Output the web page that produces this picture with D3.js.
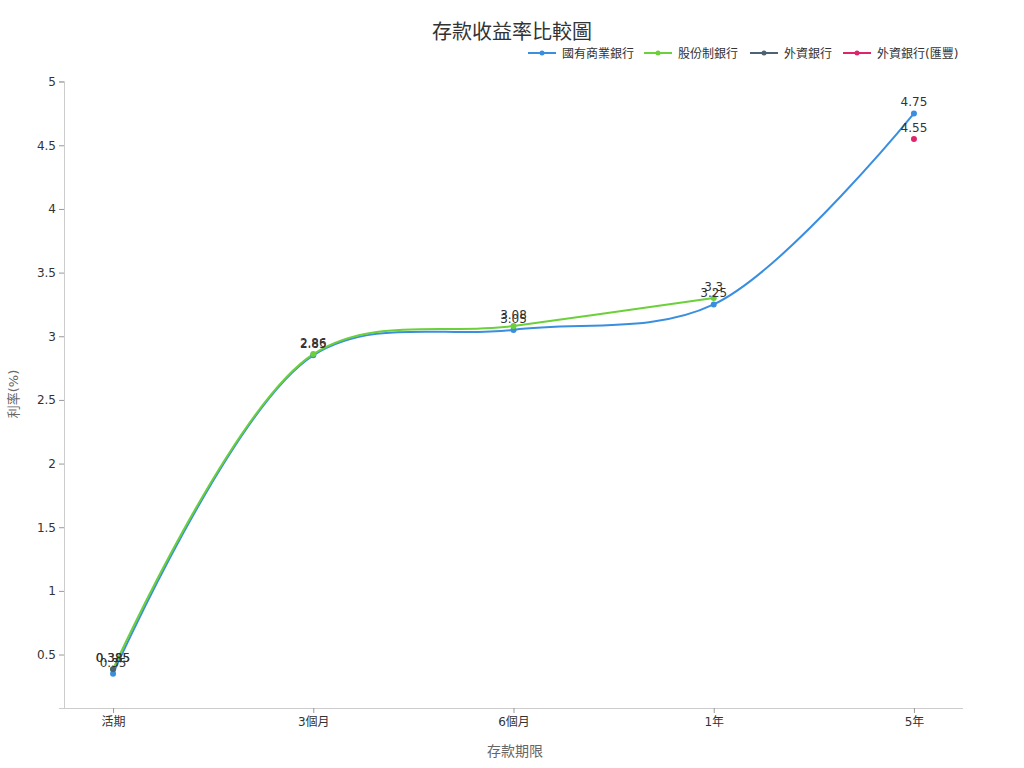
<!DOCTYPE html>
<html>
<head>
<meta charset="utf-8">
<script src="https://cdn.jsdelivr.net/npm/d3@7/dist/d3.min.js"></script>
<style>
  html, body { margin: 0; padding: 0; background: #fff; }
  svg { display: block; font-family: "DejaVu Sans", "Noto Sans CJK TC", sans-serif; }
</style>
</head>
<body>
<svg id="chart" width="1024" height="768"></svg>
<script>
const titleText = "存款收益率比較圖";
const xAxisTitle = "存款期限";
const yAxisTitle = "利率(%)";
const categories = ["活期", "3個月", "6個月", "1年", "5年"];
const seriesNames = ["國有商業銀行", "股份制銀行", "外資銀行", "外資銀行(匯豐)"];
const stateBanks = [0.35, 2.85, 3.05, 3.25, 4.75];
const jointStockBanks = [0.385, 2.86, 3.08, 3.3, null];
const foreignBanks = [0.385, null, null, null, null];
const hsbcBanks = [null, null, null, null, 4.55];
const yTicks = [0.5, 1, 1.5, 2, 2.5, 3, 3.5, 4, 4.5, 5];
const seriesColors = ["#3a8ee0", "#6bd03a", "#4d6272", "#e0246a"];

const allSeries = [stateBanks, jointStockBanks, foreignBanks, hsbcBanks].map((vals, i) => ({
  name: seriesNames[i], color: seriesColors[i],
  values: vals.map((v, j) => ({ cat: categories[j], v }))
}));

const svg = d3.select("#chart");
const m = { left: 64, right: 61, top: 81, bottom: 60 };
const W = 1024, H = 768;

const x = d3.scalePoint().domain(categories).range([m.left, W - m.right]).padding(0.245);
const y = d3.scaleLinear().domain([0.08, 5.005]).range([H - m.bottom, m.top]);

// title
svg.append("text").attr("x", 512).attr("y", 39).attr("text-anchor", "middle")
  .attr("font-size", 20).attr("fill", "#333").text(titleText);

// axes
const yAxis = svg.append("g").attr("transform", `translate(${m.left},0)`)
  .call(d3.axisLeft(y).tickValues(yTicks).tickSize(5).tickPadding(3).tickFormat(d3.format("~g")));
const xAxis = svg.append("g").attr("transform", `translate(0,${H - m.bottom})`)
  .call(d3.axisBottom(x).tickSize(5).tickPadding(4));
[xAxis, yAxis].forEach(g => {
  g.select(".domain").attr("stroke", "#ccc");
  g.selectAll(".tick line").attr("stroke", "#999");
  g.selectAll(".tick text").attr("fill", "#333").attr("font-size", 12)
    .attr("font-family", "\"DejaVu Sans\", \"Noto Sans CJK TC\", sans-serif");
});
xAxis.select(".domain").attr("d", `M${m.left},0.5H${W - m.right}`);

// axis titles
svg.append("text").attr("x", 515).attr("y", 756).attr("text-anchor", "middle")
  .attr("font-size", 14).attr("fill", "#666").text(xAxisTitle);
svg.append("text").attr("transform", "translate(18,394) rotate(-90)").attr("text-anchor", "middle")
  .attr("font-size", 13).attr("fill", "#666").text(yAxisTitle);

// lines
const line = d3.line().defined(d => d.v != null)
  .x(d => x(d.cat)).y(d => y(d.v)).curve(d3.curveCatmullRom);
allSeries.forEach(s => {
  svg.append("path").datum(s.values).attr("d", line)
    .attr("fill", "none").attr("stroke", s.color).attr("stroke-width", 2);
});
allSeries.forEach(s => {
  svg.append("g").selectAll("circle").data(s.values.filter(d => d.v != null)).join("circle")
    .attr("cx", d => x(d.cat)).attr("cy", d => y(d.v)).attr("r", 3).attr("fill", s.color);
});
allSeries.forEach(s => {
  svg.append("g").selectAll("text").data(s.values.filter(d => d.v != null)).join("text")
    .attr("x", d => x(d.cat)).attr("y", d => y(d.v) - 7).attr("text-anchor", "middle")
    .attr("font-size", 12).attr("fill", "#333").text(d => d.v);
});

// legend
const legendX = [528, 644, 750, 843];
const lg = svg.append("g");
allSeries.forEach((s, i) => {
  const g = lg.append("g").attr("transform", `translate(${legendX[i]},53)`);
  g.append("line").attr("x1", 0).attr("x2", 28).attr("stroke", s.color).attr("stroke-width", 2);
  g.append("circle").attr("cx", 14).attr("r", 2.5).attr("fill", s.color);
  g.append("text").attr("x", 34).attr("y", 4.5).attr("font-size", 12).attr("fill", "#333").text(s.name);
});
</script>
</body>
</html>
